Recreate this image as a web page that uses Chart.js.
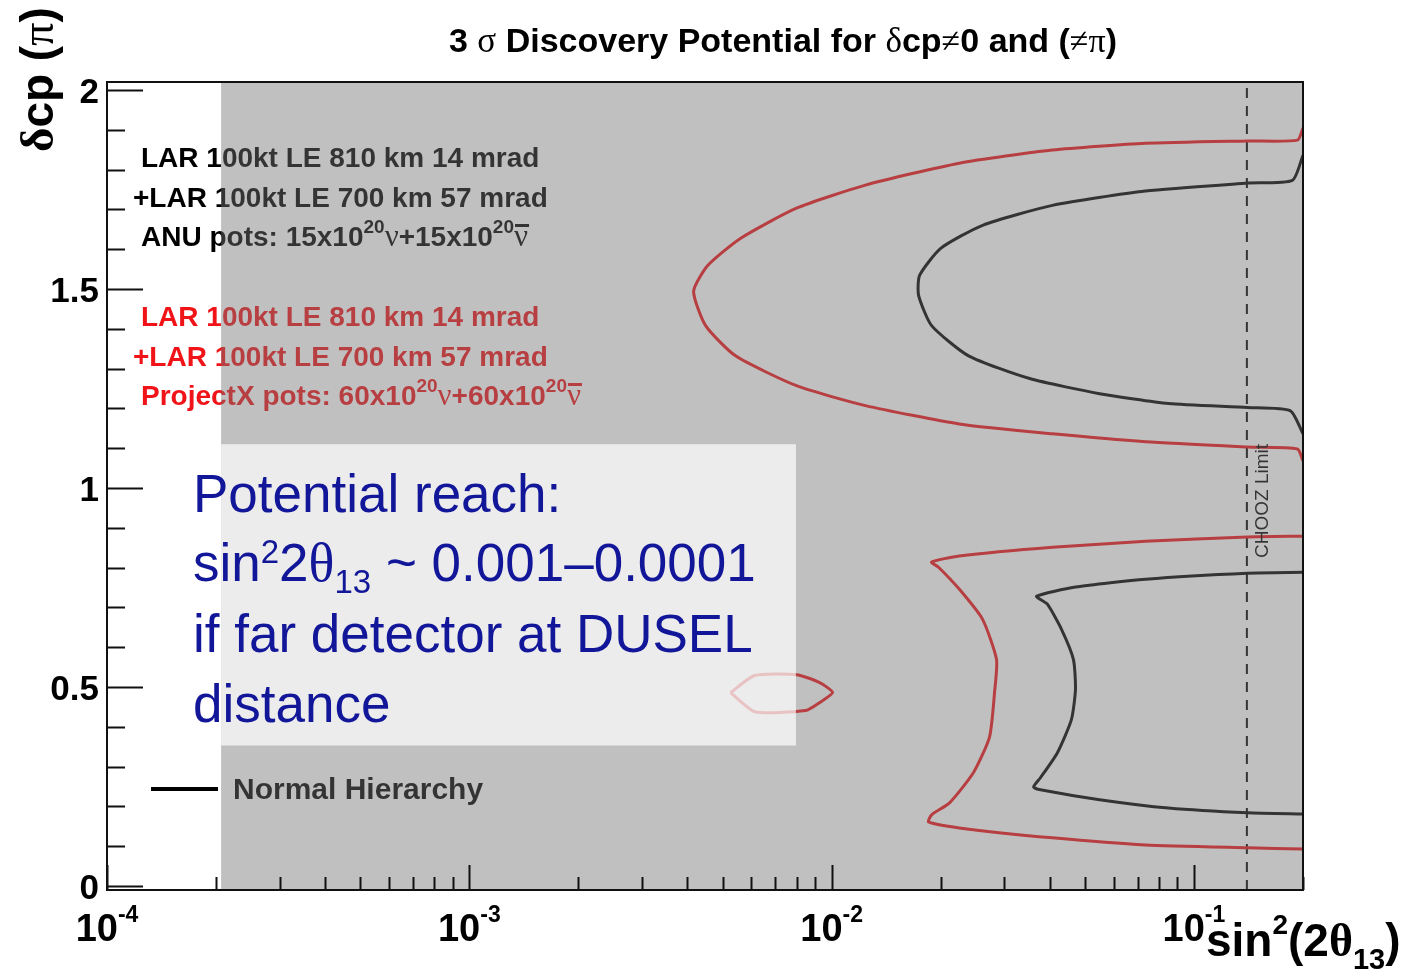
<!DOCTYPE html>
<html>
<head>
<meta charset="utf-8">
<script src="https://cdn.jsdelivr.net/npm/chart.js@4"></script>
<style>
html, body { margin: 0; padding: 0; background: #fff; }
#wrap { width: 1411px; height: 977px; }
</style>
</head>
<body>
<div id="wrap"><canvas id="c" width="1411" height="977"></canvas></div>
<script>
// ── data (sin^2 2θ13, δcp in units of π) ───────────────────────────────
const redUpperX = [0.200, 0.193, 0.1406, 0.0735, 0.0407, 0.0225, 0.0124, 0.0080, 0.0056, 0.00455, 0.00416,
    0.00449, 0.00543, 0.0080, 0.0124, 0.0225, 0.0407, 0.0735, 0.1406, 0.193, 0.200];
const redUpperY = [1.904, 1.874, 1.872, 1.866, 1.849, 1.816, 1.761, 1.703, 1.627, 1.559, 1.494,
    1.408, 1.332, 1.257, 1.207, 1.161, 1.136, 1.116, 1.103, 1.098, 1.068];

const blackUpperX = [0.200, 0.187, 0.1406, 0.0735, 0.0407, 0.0261, 0.0200, 0.01749, 0.01738,
    0.01888, 0.02387, 0.0352, 0.0549, 0.0851, 0.1406, 0.1846, 0.200];
const blackUpperY = [1.836, 1.773, 1.766, 1.746, 1.710, 1.660, 1.602, 1.534, 1.484,
    1.408, 1.332, 1.275, 1.237, 1.212, 1.202, 1.194, 1.136];

const redLowerX = [0.200, 0.1406, 0.0735, 0.0407, 0.0225, 0.01888, 0.01973, 0.0225, 0.0261, 0.02852,
    0.02816, 0.02729, 0.02464, 0.02116, 0.01888, 0.01852, 0.0225, 0.0407, 0.0735, 0.1406, 0.200];
const redLowerY = [0.879, 0.877, 0.866, 0.851, 0.829, 0.814, 0.801, 0.746, 0.670, 0.569,
    0.486, 0.375, 0.285, 0.209, 0.179, 0.161, 0.146, 0.121, 0.103, 0.096, 0.093];

const blackLowerX = [0.200, 0.1406, 0.0735, 0.0471, 0.0368, 0.0394, 0.0431, 0.0465, 0.0471,
    0.0459, 0.0420, 0.0377, 0.0361, 0.0377, 0.0549, 0.0851, 0.1406, 0.200];
const blackLowerY = [0.788, 0.786, 0.771, 0.751, 0.728, 0.708, 0.645, 0.569, 0.494,
    0.418, 0.335, 0.272, 0.249, 0.242, 0.217, 0.196, 0.184, 0.181];

const redIslandX = [0.00526, 0.00613, 0.0080, 0.00927, 0.01006, 0.00927, 0.00848, 0.00613, 0.00526];
const redIslandY = [0.486, 0.529, 0.531, 0.511, 0.486, 0.461, 0.441, 0.438, 0.486];

const choozLimit = 0.14;

// axes
const xMin = 1e-4, xMax = 0.2;
const yMin = -0.01, yMax = 2.02;
const xMajor = [1e-4, 1e-3, 1e-2, 1e-1];
const xMajorExp = ['-4', '-3', '-2', '-1'];
const xMinorMult = [2, 3, 4, 5, 6, 7, 8, 9];
const yMajor = [0, 0.5, 1, 1.5, 2];
const yMajorLabels = ['0', '0.5', '1', '1.5', '2'];
const yMinor = [0.1, 0.2, 0.3, 0.4, 0.6, 0.7, 0.8, 0.9, 1.1, 1.2, 1.3, 1.4, 1.6, 1.7, 1.8, 1.9];

// slide overlays
const grayFrom = 2.065e-4;
const noteBox = { x0: 2.065e-4, x1: 0.00797, y0: 0.353, y1: 1.110 };

const B = (s) => `bold ${s}px "Liberation Sans", Arial, sans-serif`;
const R = (s) => `${s}px "Liberation Sans", Arial, sans-serif`;
const G = (s) => `${s}px "Liberation Serif", "DejaVu Serif", serif`;
const GB = (s) => `bold ${s}px "Liberation Serif", "DejaVu Serif", serif`;

const RED = 'rgb(240,20,25)';

function rich(ctx, x, y, parts, align) {
    let w = 0;
    parts.forEach((p) => { ctx.font = p.f; w += ctx.measureText(p.t).width; });
    let cx = align === 'center' ? x - w / 2 : (align === 'right' ? x - w : x);
    parts.forEach((p) => {
        ctx.font = p.f;
        const pw = ctx.measureText(p.t).width;
        ctx.fillText(p.t, cx, y + (p.dy || 0));
        if (p.bar) ctx.fillRect(cx + 1, y - p.bar, pw, 3);
        cx += pw;
    });
    return w;
}

function legendLines(pots) {
    return [
        [{ t: 'LAR 100kt LE 810 km 14 mrad', f: B(28) }],
        [{ t: '+LAR 100kt LE 700 km 57 mrad', f: B(28) }],
        [{ t: pots[0] + 'x10', f: B(28) }, { t: '20', f: B(19), dy: -13 }, { t: 'ν', f: G(31) },
         { t: '+' + pots[1] + 'x10', f: B(28) }, { t: '20', f: B(19), dy: -13 }, { t: 'ν', f: G(31), bar: 22 }],
    ];
}

const slidePlugin = {
    id: 'slide',
    afterDatasetsDraw(chart) {
        const { ctx, chartArea: a, scales: { x, y } } = chart;
        ctx.save();
        ctx.textBaseline = 'alphabetic';

        // in-frame legend (under the grey layer)
        ctx.fillStyle = '#000';
        const bl = legendLines(['ANU pots: 15', '15']);
        rich(ctx, 141, 167, bl[0]);
        rich(ctx, 133, 207, bl[1]);
        rich(ctx, 141, 246, bl[2]);
        ctx.fillStyle = RED;
        const rl = legendLines(['ProjectX pots: 60', '60']);
        rich(ctx, 141, 326, rl[0]);
        rich(ctx, 133, 366, rl[1]);
        rich(ctx, 141, 405, rl[2]);

        ctx.fillStyle = '#000';
        ctx.fillRect(151, 787, 67, 4);
        ctx.font = B(30);
        ctx.fillText('Normal Hierarchy', 233, 799);

        ctx.save();
        ctx.translate(x.getPixelForValue(choozLimit) + 21, 558);
        ctx.rotate(-Math.PI / 2);
        ctx.font = R(19);
        ctx.fillText('CHOOZ Limit', 0, 0);
        ctx.restore();

        // grey layer
        const gx = x.getPixelForValue(grayFrom);
        ctx.fillStyle = 'rgba(115,115,115,0.45)';
        ctx.fillRect(gx, a.top, a.right - gx, a.bottom - a.top);

        // frame
        ctx.strokeStyle = '#111';
        ctx.lineWidth = 2;
        ctx.strokeRect(a.left, a.top, a.right - a.left, a.bottom - a.top);

        // ticks
        ctx.beginPath();
        xMajor.forEach((v) => {
            const px = Math.round(x.getPixelForValue(v)) + 0.5;
            ctx.moveTo(px, a.bottom); ctx.lineTo(px, a.bottom - 25);
            xMinorMult.forEach((m) => {
                if (v * m <= xMax) {
                    const mx = Math.round(x.getPixelForValue(v * m)) + 0.5;
                    ctx.moveTo(mx, a.bottom); ctx.lineTo(mx, a.bottom - 13);
                }
            });
        });
        yMajor.forEach((v) => {
            const py = Math.round(y.getPixelForValue(v)) + 0.5;
            ctx.moveTo(a.left, py); ctx.lineTo(a.left + 36, py);
        });
        yMinor.forEach((v) => {
            const py = Math.round(y.getPixelForValue(v)) + 0.5;
            ctx.moveTo(a.left, py); ctx.lineTo(a.left + 18, py);
        });
        ctx.lineWidth = 2;
        ctx.stroke();

        // tick labels
        ctx.fillStyle = '#000';
        ctx.textAlign = 'right';
        ctx.font = B(35);
        yMajor.forEach((v, i) => ctx.fillText(yMajorLabels[i], 99, y.getPixelForValue(v) + 13));
        ctx.textAlign = 'left';
        xMajor.forEach((v, i) => {
            rich(ctx, x.getPixelForValue(v), 941,
                [{ t: '10', f: B(38) }, { t: xMajorExp[i], f: B(23), dy: -19 }], 'center');
        });

        // axis titles
        rich(ctx, 1206, 956, [{ t: 'sin', f: B(46) }, { t: '2', f: B(28), dy: -22 }, { t: '(2', f: B(46) },
            { t: 'θ', f: GB(46) }, { t: '13', f: B(29), dy: 13 }, { t: ')', f: B(46) }]);
        ctx.save();
        ctx.translate(53, 152);
        ctx.rotate(-Math.PI / 2);
        rich(ctx, 0, 0, [{ t: 'δ', f: GB(47) }, { t: 'cp (', f: B(46) }, { t: 'π', f: G(46) }, { t: ')', f: B(46) }]);
        ctx.restore();

        // title
        rich(ctx, 783, 52, [{ t: '3 ', f: B(34) }, { t: 'σ', f: G(35) }, { t: ' Discovery Potential for ', f: B(34) },
            { t: 'δ', f: G(35) }, { t: 'cp', f: B(34) }, { t: '≠', f: G(34) }, { t: '0 and (', f: B(34) },
            { t: '≠π', f: G(34) }, { t: ')', f: B(34) }], 'center');

        // note box
        const bx0 = x.getPixelForValue(noteBox.x0), bx1 = x.getPixelForValue(noteBox.x1);
        const by0 = y.getPixelForValue(noteBox.y1), by1 = y.getPixelForValue(noteBox.y0);
        ctx.fillStyle = 'rgba(255,255,255,0.69)';
        ctx.fillRect(bx0, by0, bx1 - bx0, by1 - by0);

        ctx.fillStyle = 'rgb(18,22,152)';
        ctx.font = R(53);
        ctx.fillText('Potential reach:', 193, 512);
        rich(ctx, 193, 581, [{ t: 'sin', f: R(53) }, { t: '2', f: R(33), dy: -18 }, { t: '2', f: R(53) },
            { t: 'θ', f: G(54) }, { t: '13', f: R(33), dy: 12 }, { t: ' ~ 0.001–0.0001', f: R(53) }]);
        ctx.font = R(53);
        ctx.fillText('if far detector at DUSEL', 193, 652);
        ctx.fillText('distance', 193, 722);
        ctx.restore();
    },
};

const pts = (xs, ys) => xs.map((v, i) => ({ x: v, y: ys[i] }));
const curve = (label, xs, ys, color) => ({
    label, data: pts(xs, ys), showLine: true, borderColor: color, borderWidth: 3,
    pointRadius: 0, fill: false, tension: 0.2,
});

new Chart(document.getElementById('c'), {
    type: 'scatter',
    data: {
        datasets: [
            curve('ProjectX upper', redUpperX, redUpperY, RED),
            curve('ANU upper', blackUpperX, blackUpperY, '#000'),
            curve('ProjectX lower', redLowerX, redLowerY, RED),
            curve('ANU lower', blackLowerX, blackLowerY, '#000'),
            curve('ProjectX island', redIslandX, redIslandY, RED),
            {
                label: 'CHOOZ Limit', data: [{ x: choozLimit, y: yMin }, { x: choozLimit, y: yMax }],
                showLine: true, borderColor: '#000', borderWidth: 2, borderDash: [10, 8], pointRadius: 0,
            },
        ],
    },
    options: {
        responsive: false,
        animation: false,
        devicePixelRatio: 1,
        layout: { padding: { left: 107, right: 108, top: 82, bottom: 87 } },
        plugins: { legend: { display: false }, tooltip: { enabled: false }, title: { display: false } },
        scales: {
            x: { type: 'logarithmic', min: xMin, max: xMax, display: false },
            y: { type: 'linear', min: yMin, max: yMax, display: false },
        },
    },
    plugins: [slidePlugin],
});
</script>
</body>
</html>
